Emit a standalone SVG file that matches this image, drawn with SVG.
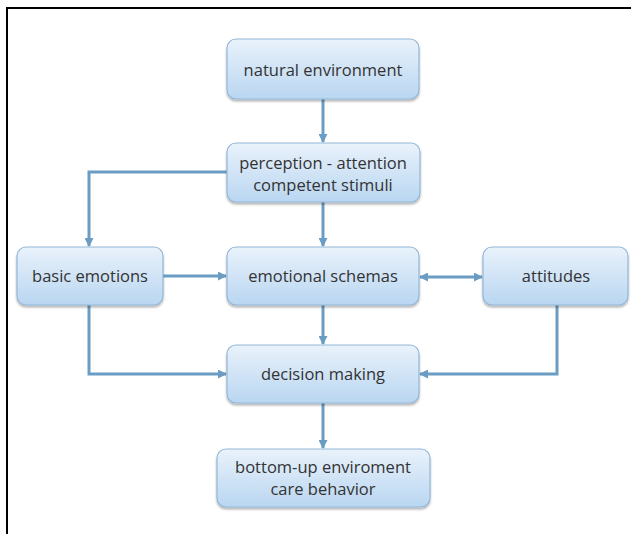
<svg xmlns="http://www.w3.org/2000/svg" width="631" height="534" viewBox="0 0 631 534">
<defs>
<linearGradient id="g" x1="0" y1="0" x2="0" y2="1">
<stop offset="0" stop-color="#e9f2fb"/>
<stop offset="1" stop-color="#b9d6f1"/>
</linearGradient>
<filter id="sh" x="-10%" y="-10%" width="120%" height="130%">
<feGaussianBlur in="SourceAlpha" stdDeviation="1.2"/>
<feOffset dx="0" dy="1.5"/>
<feComponentTransfer><feFuncA type="linear" slope="0.3"/></feComponentTransfer>
<feMerge><feMergeNode/><feMergeNode in="SourceGraphic"/></feMerge>
</filter>
<marker id="ah" markerWidth="9" markerHeight="9" refX="8" refY="4.5" orient="auto-start-reverse" markerUnits="userSpaceOnUse">
<path d="M0,0 L9,4.5 L0,9 Z" fill="#6b9dc4"/>
</marker>
</defs>
<style>
.box{fill:url(#g);stroke:#93b7d8;stroke-width:1.2;filter:url(#sh)}
.t{font-family:"Open Sans","Liberation Sans",sans-serif;font-size:16.5px;fill:#333333;text-anchor:middle}
.c{fill:none;stroke:#6b9dc4;stroke-width:3}
</style>
<rect width="631" height="534" fill="#ffffff"/>
<path d="M7,534 L7,8 L631,8" fill="none" stroke="#000" stroke-width="2"/>
<g id="connectors">
<path class="c" d="M323,99 L323,142" marker-end="url(#ah)"/>
<path class="c" d="M227,172 L89,172 L89,246" marker-end="url(#ah)"/>
<path class="c" d="M323,202 L323,246" marker-end="url(#ah)"/>
<path class="c" d="M163,276 L226,276" marker-end="url(#ah)"/>
<path class="c" d="M420,277 L482,277" marker-start="url(#ah)" marker-end="url(#ah)"/>
<path class="c" d="M323,305 L323,344" marker-end="url(#ah)"/>
<path class="c" d="M89,305 L89,374 L226,374" marker-end="url(#ah)"/>
<path class="c" d="M557,305 L557,374 L420,374" marker-end="url(#ah)"/>
<path class="c" d="M323,403 L323,448" marker-end="url(#ah)"/>
</g>
<g id="natural-environment">
<rect class="box" x="227" y="39" width="192" height="60" rx="9"/>
<text class="t" x="323" y="76">natural environment</text>
</g>
<g id="perception">
<rect class="box" x="227" y="143" width="193" height="59" rx="9"/>
<text class="t" x="323" y="169">perception - attention</text>
<text class="t" x="323" y="191">competent stimuli</text>
</g>
<g id="basic-emotions">
<rect class="box" x="17" y="247" width="146" height="58" rx="9"/>
<text class="t" x="90" y="282">basic emotions</text>
</g>
<g id="emotional-schemas">
<rect class="box" x="227" y="247" width="192" height="58" rx="9"/>
<text class="t" x="323" y="282">emotional schemas</text>
</g>
<g id="attitudes">
<rect class="box" x="483" y="247" width="145" height="58" rx="9"/>
<text class="t" x="556" y="282">attitudes</text>
</g>
<g id="decision-making">
<rect class="box" x="227" y="345" width="192" height="58" rx="9"/>
<text class="t" x="323" y="380">decision making</text>
</g>
<g id="bottom-up">
<rect class="box" x="217" y="449" width="213" height="58" rx="9"/>
<text class="t" x="323" y="473">bottom-up enviroment</text>
<text class="t" x="323" y="495">care behavior</text>
</g>
</svg>
